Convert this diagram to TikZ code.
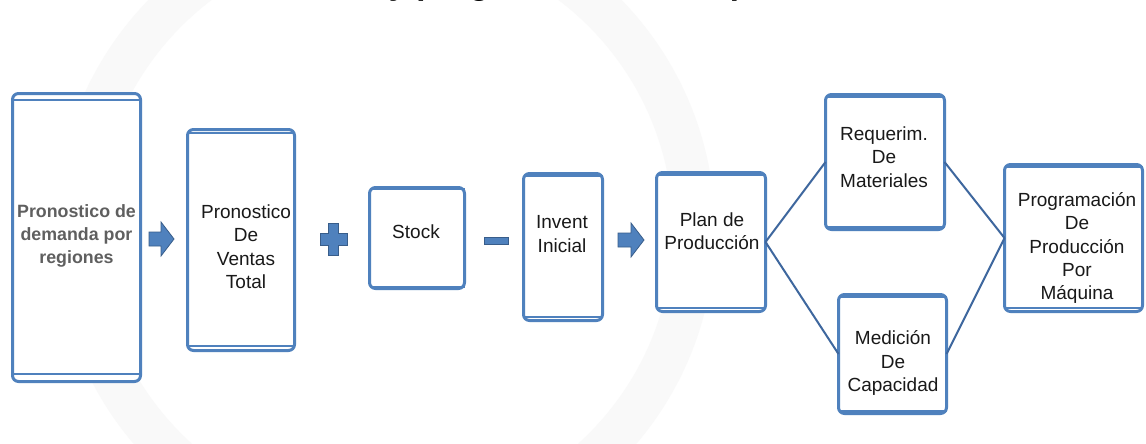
\documentclass[tikz,border=0pt]{standalone}
\usepackage{fontspec}
\setmainfont{Liberation Sans}

\definecolor{boxblue}{RGB}{79,129,189}
\definecolor{edgeblue}{RGB}{56,93,138}
\definecolor{linkblue}{RGB}{62,103,158}
\definecolor{ink}{RGB}{25,25,25}
\definecolor{softgray}{RGB}{95,95,95}
\definecolor{haze}{RGB}{249,249,249}

\tikzset{
  panel/.style={draw=boxblue, line width=2.25pt, rounded corners=4.5pt,
    fill=white, inner sep=0pt, outer sep=0pt},
  panelrule/.style={draw=boxblue, line width=1.4pt},
  label/.style={text=ink, align=center, inner sep=0pt,
    font=\fontsize{14.25pt}{17.6pt}\selectfont},
  graylabel/.style={text=softgray, align=center, inner sep=0pt,
    font=\bfseries\fontsize{13.35pt}{17.25pt}\selectfont},
  link/.style={draw=linkblue, line width=1.5pt},
  operator/.style={fill=boxblue, draw=edgeblue, line width=0.6pt, line join=miter},
}

% rounded box with a double rule along its top and bottom edges
% #1 name, #2..#5 outer edges (x1,y1,x2,y2), #6 top rule gap, #7 bottom rule gap
\newcommand\panelbox[7]{%
  \node[panel, minimum width={(#4-#2-3)*0.75pt}, minimum height={(#5-#3-3)*0.75pt}]
    (#1) at ({(#2+#4)/2},{(#3+#5)/2}) {};
  \draw[panelrule] ([yshift={-(#6-1.5)*0.75pt}]#1.north west) --
                   ([yshift={-(#6-1.5)*0.75pt}]#1.north east);
  \draw[panelrule] ([yshift={(#7-1.5)*0.75pt}]#1.south west) --
                   ([yshift={(#7-1.5)*0.75pt}]#1.south east);
}

\begin{document}
\begin{tikzpicture}[x=0.75pt, y=-0.75pt]
\useasboundingbox (0,0) rectangle (1146,443);
\fill[white] (0,0) rectangle (1146,443);

\begin{scope}
  \clip (0,0) rectangle (1146,443);
  % watermark ring behind the flow
  \fill[haze, even odd rule] (385,230) circle[radius=330] (385,230) circle[radius=288];
  % heading, cut by the top edge
  \node[anchor=base west, inner sep=0pt, text=black,
        font=\bfseries\fontsize{24.75pt}{29pt}\selectfont]
    (heading) at (388.5,-5.5) {y programación de la producción};
\end{scope}

% boxes
\panelbox{A}{11}{92}{142}{383}{8}{9}
\panelbox{B}{186}{128}{296}{352}{5}{6}
\panelbox{C}{368}{186}{466}{290}{3}{3}
\panelbox{D}{522}{172}{604}{322}{4}{5}
\panelbox{E}{655}{171}{767}{313}{4}{5}
\panelbox{F}{824}{93}{946}{231}{4}{4}
\panelbox{G}{837}{293}{948}{415}{4}{4}
\panelbox{H}{1003}{163}{1144}{313}{4}{5}

% labels
\node[graylabel] (tA) at (76.5,236) {Pronostico de\\demanda por\\regiones};
\node[label] (tB) at (246,246.5) {Pronostico\\De\\Ventas\\Total};
\node[label] (tC) at (416,232) {Stock};
\node[label] (tD) at (562,234) {Invent\\Inicial};
\node[label] (tE) at (712,231) {Plan de\\Producción};
\node[label] (tF) at (884,157) {Requerim.\\De\\Materiales};
\node[label] (tG) at (893,363) {Medición\\De\\Capacidad};
\node[label] (tH) at (1077,248) {Programación\\De\\Producción\\Por\\Máquina};

% operators between the boxes
\draw[operator] (149,232) -- (161,232) -- (161,222) -- (174,239) -- (161,256)
  -- (161,246) -- (149,246) -- cycle;
\draw[operator] (328,223) -- (338,223) -- (338,233) -- (347,233) -- (347,245)
  -- (338,245) -- (338,255) -- (328,255) -- (328,245) -- (320,245) -- (320,233)
  -- (328,233) -- cycle;
\draw[operator] (484,237) rectangle (508,244);
\draw[operator] (618,233) -- (631,233) -- (631,223) -- (644,240) -- (631,257)
  -- (631,247) -- (618,247) -- cycle;

% branch and merge
\draw[link] (E.east) -- (F.west);
\draw[link] (E.east) -- (G.west);
\draw[link] (F.east) -- (H.west);
\draw[link] (G.east) -- (H.west);
\end{tikzpicture}
\end{document}
